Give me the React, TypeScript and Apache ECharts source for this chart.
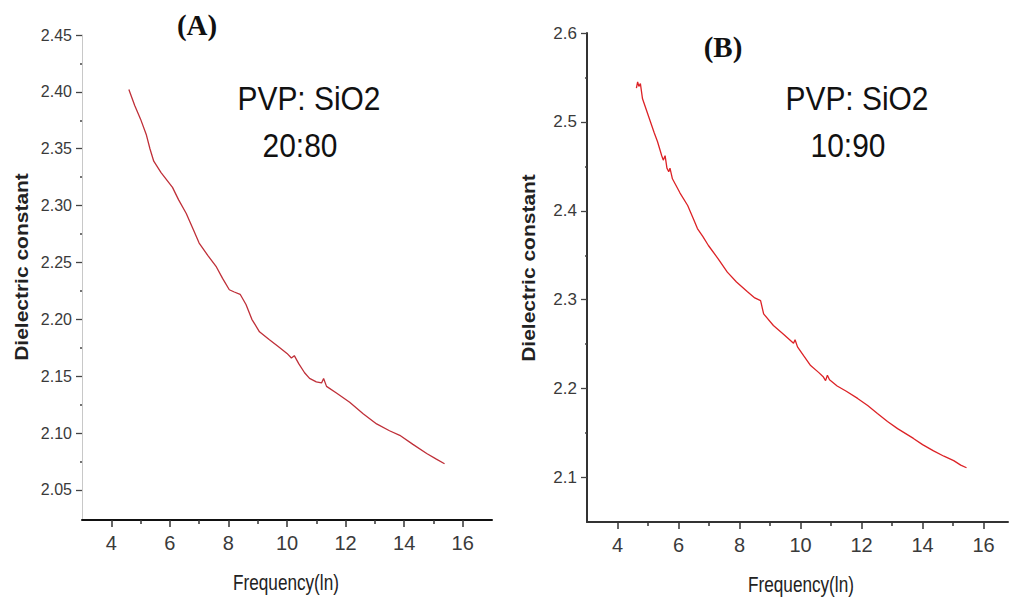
import React, { useEffect, useRef } from "react";
import * as echarts from "echarts";

// Panel A: PVP:SiO2 20:80
const freqA = [4.6, 4.8, 5.0, 5.2, 5.32, 5.45, 5.7, 6.09, 6.3, 6.56, 6.8, 7.0, 7.3, 7.59, 7.8, 8.03, 8.2, 8.4, 8.6, 8.8, 9.06, 9.4, 9.7, 10.0, 10.15, 10.25, 10.4, 10.6, 10.77, 11.0, 11.18, 11.25, 11.35, 11.7, 12.14, 12.6, 13.06, 13.5, 13.85, 14.3, 14.77, 15.1, 15.38];
const dielA = [2.402, 2.388, 2.376, 2.362, 2.35, 2.339, 2.329, 2.316, 2.305, 2.293, 2.279, 2.267, 2.256, 2.246, 2.236, 2.226, 2.224, 2.222, 2.213, 2.2, 2.189, 2.182, 2.176, 2.17, 2.166, 2.168, 2.161, 2.153, 2.148, 2.145, 2.144, 2.148, 2.141, 2.135, 2.127, 2.117, 2.108, 2.102, 2.098, 2.09, 2.082, 2.077, 2.073];

// Panel B: PVP:SiO2 10:90
const freqB = [4.62, 4.66, 4.7, 4.75, 4.82, 5.02, 5.2, 5.31, 5.45, 5.5, 5.56, 5.62, 5.68, 5.72, 5.8, 6.05, 6.3, 6.5, 6.62, 6.8, 6.98, 7.3, 7.6, 7.9, 8.26, 8.5, 8.69, 8.75, 8.79, 9.11, 9.45, 9.77, 9.82, 9.9, 10.1, 10.33, 10.6, 10.75, 10.82, 10.88, 10.95, 11.2, 11.5, 11.87, 12.2, 12.52, 12.85, 13.18, 13.7, 14.0, 14.36, 14.7, 15.02, 15.25, 15.44];
const dielB = [2.538, 2.545, 2.54, 2.543, 2.526, 2.506, 2.488, 2.478, 2.462, 2.457, 2.462, 2.448, 2.444, 2.448, 2.436, 2.42, 2.406, 2.39, 2.38, 2.371, 2.361, 2.346, 2.331, 2.32, 2.309, 2.302, 2.299, 2.29, 2.284, 2.271, 2.261, 2.251, 2.255, 2.247, 2.237, 2.226, 2.218, 2.213, 2.209, 2.215, 2.21, 2.203, 2.197, 2.189, 2.181, 2.172, 2.163, 2.155, 2.144, 2.137, 2.13, 2.124, 2.119, 2.114, 2.111];

const xMajorTicks = [4, 6, 8, 10, 12, 14, 16];
const xMinorTicks = [5, 7, 9, 11, 13, 15];
const yMajorA = [2.05, 2.1, 2.15, 2.2, 2.25, 2.3, 2.35, 2.4, 2.45];
const yMinorA = [2.075, 2.125, 2.175, 2.225, 2.275, 2.325, 2.375, 2.425];
const yMajorB = [2.1, 2.2, 2.3, 2.4, 2.5, 2.6];
const yMinorB = [2.15, 2.25, 2.35, 2.45, 2.55];

const labelsA = { tag: "(A)", line1: "PVP: SiO2", line2: "20:80" };
const labelsB = { tag: "(B)", line1: "PVP: SiO2", line2: "10:90" };
const xTitle = "Frequency(ln)";
const yTitle = "Dielectric constant";

const NARROW = "'Liberation Sans Narrow', 'Liberation Sans', Arial, sans-serif";
const SANS = "'Liberation Sans', Arial, sans-serif";
const SERIF = "'Liberation Serif', 'Times New Roman', serif";

function zip(xs: number[], ys: number[]) {
  return xs.map((x, i) => [x, ys[i]]);
}

function xAxes(grid: number, max: number, lineColor: string) {
  return [
    {
      type: "value", gridIndex: grid, position: "bottom", min: 3, max,
      axisLine: { show: true, lineStyle: { color: lineColor, width: 2 } },
      axisTick: { show: true, customValues: xMajorTicks, length: 7, lineStyle: { color: "#333", width: 1.5 } },
      axisLabel: { show: true, customValues: xMajorTicks, margin: 13, fontSize: 20, color: "#3a3a3a", fontFamily: NARROW, formatter: (v: number) => String(v) },
      splitLine: { show: false },
    },
    {
      type: "value", gridIndex: grid, position: "bottom", min: 3, max,
      axisLine: { show: false },
      axisTick: { show: true, customValues: xMinorTicks, length: 4, lineStyle: { color: "#333", width: 1.5 } },
      axisLabel: { show: false },
      splitLine: { show: false },
    },
  ];
}

function yAxes(grid: number, min: number, max: number, major: number[], minor: number[], digits: number, lineColor: string, lineWidth: number, fontSize: number) {
  return [
    {
      type: "value", gridIndex: grid, position: "left", min, max,
      axisLine: { show: true, lineStyle: { color: lineColor, width: lineWidth } },
      axisTick: { show: true, customValues: major, length: 6, lineStyle: { color: "#444", width: 1.3 } },
      axisLabel: { show: true, customValues: major, margin: 10, fontSize, color: "#3a3a3a", fontFamily: NARROW, formatter: (v: number) => v.toFixed(digits) },
      splitLine: { show: false },
    },
    {
      type: "value", gridIndex: grid, position: "left", min, max,
      axisLine: { show: false },
      axisTick: { show: true, customValues: minor, length: 2, lineStyle: { color: "#444", width: 1.5 } },
      axisLabel: { show: false },
      splitLine: { show: false },
    },
  ];
}

function txt(text: string, x: number, y: number, font: string, opts: any = {}) {
  return {
    type: "text", x, y, rotation: opts.rotation || 0, scaleX: opts.scaleX || 1, scaleY: opts.scaleY || 1,
    style: { text, font, fill: opts.fill || "#111", textAlign: "center", textVerticalAlign: "middle" },
  };
}

export default function App() {
  const ref = useRef<HTMLDivElement>(null);
  useEffect(() => {
    if (!ref.current) return;
    const chart = echarts.init(ref.current, undefined, { renderer: "svg" });
    chart.setOption({
      animation: false,
      backgroundColor: "#ffffff",
      grid: [
        { left: 82, top: 35, width: 410, height: 485 },
        { left: 587, top: 33, width: 421, height: 489 },
      ],
      xAxis: [...xAxes(0, 17, "#111"), ...xAxes(1, 16.8, "#333")],
      yAxis: [
        ...yAxes(0, 2.0235, 2.45, yMajorA, yMinorA, 2, "#c8c8c8", 1, 16),
        ...yAxes(1, 2.05, 2.6, yMajorB, yMinorB, 1, "#333", 2, 17),
      ],
      series: [
        {
          type: "line", xAxisIndex: 0, yAxisIndex: 0, data: zip(freqA, dielA),
          showSymbol: false, symbol: "none", lineStyle: { color: "#bf2f38", width: 1.3 },
        },
        {
          type: "line", xAxisIndex: 2, yAxisIndex: 2, data: zip(freqB, dielB),
          showSymbol: false, symbol: "none", lineStyle: { color: "#dc2226", width: 1.3 },
        },
      ],
      graphic: [
        txt(labelsA.tag, 197, 25, `bold 29px ${SERIF}`),
        txt(labelsB.tag, 723, 47, `bold 29px ${SERIF}`),
        txt(labelsA.line1, 309, 98, `34px ${SANS}`, { scaleX: 0.88 }),
        txt(labelsA.line2, 300, 145, `34px ${SANS}`, { scaleX: 0.88 }),
        txt(labelsB.line1, 857, 98, `34px ${SANS}`, { scaleX: 0.88 }),
        txt(labelsB.line2, 848, 145, `34px ${SANS}`, { scaleX: 0.88 }),
        txt(xTitle, 286, 582, `22px ${SANS}`, { scaleX: 0.78, fill: "#222" }),
        txt(xTitle, 801, 584, `22px ${SANS}`, { scaleX: 0.78, fill: "#222" }),
        txt(yTitle, 22, 267, `bold 21px ${SANS}`, { rotation: Math.PI / 2, scaleY: 0.85, fill: "#222" }),
        txt(yTitle, 529, 268, `bold 21px ${SANS}`, { rotation: Math.PI / 2, scaleY: 0.85, fill: "#222" }),
      ],
    });
    return () => chart.dispose();
  }, []);
  return <div ref={ref} style={{ position: "absolute", left: 0, top: 0, width: 1010, height: 601 }} />;
}
